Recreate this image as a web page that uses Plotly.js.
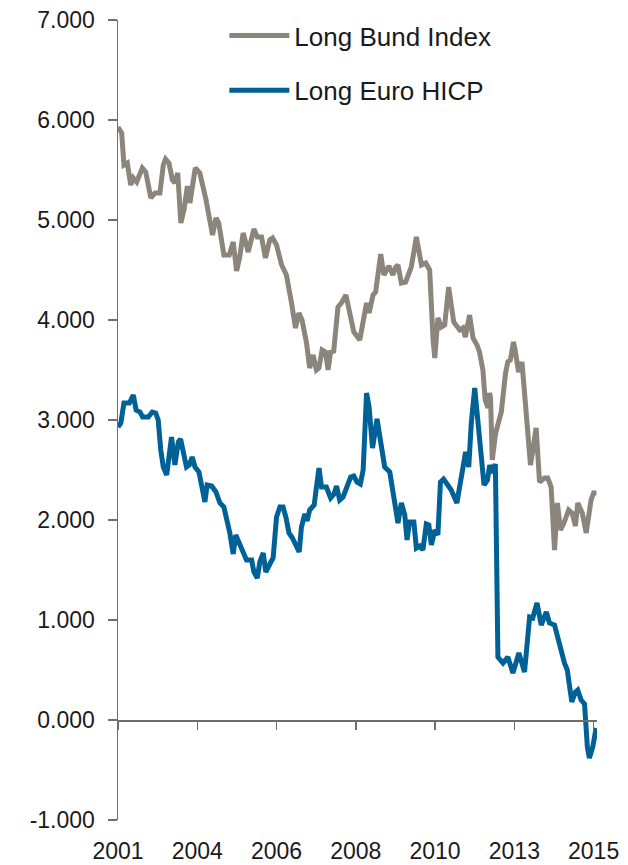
<!DOCTYPE html>
<html>
<head>
<meta charset="utf-8">
<script src="https://cdn.plot.ly/plotly-3.0.1.min.js"></script>
<style>html,body{margin:0;padding:0;background:#fff;}#chart{width:628px;height:865px;}</style>
</head>
<body>
<div id="chart"></div>
<script>
// x = months since start of 2001
const bundMonths = [0,1.3,2.1,3.3,4.5,5.4,6.6,8.6,9.8,11.6,13.1,14.8,16.0,16.8,18.0,19.2,20.1,21.1,22.2,23.3,24.5,25.4,27.3,28.9,31.1,32.5,33.4,34.6,35.6,37.4,39.3,40.7,41.9,43.0,44.2,46.0,48.0,49.2,50.7,52.1,53.6,54.6,56.0,57.8,59.5,61.3,62.7,63.9,65.0,66.6,67.7,68.9,70.1,71.0,72.1,73.3,74.2,75.1,76.2,77.7,78.9,80.5,81.6,83.3,85.4,86.8,87.8,88.7,90.1,91.0,92.8,93.9,95.7,97.1,98.1,98.9,100.1,101.6,103.6,105.4,107.2,108.7,110.1,111.3,111.9,113.0,114.2,115.4,116.8,118.6,120.7,121.8,122.7,124.2,125.4,126.8,127.7,128.9,129.7,130.7,131.3,131.6,132.2,133.4,135.4,136.9,137.7,138.6,139.7,140.4,141.5,142.7,143.9,145.7,147.7,148.9,150.7,151.8,153.0,154.2,155.2,156.3,157.5,159.2,160.4,161.6,162.4,164.0,165.4,167.1,168.0,169.0];
const bundValues = [5.93,5.87,5.55,5.57,5.35,5.42,5.38,5.52,5.48,5.22,5.27,5.27,5.55,5.61,5.57,5.40,5.37,5.47,4.97,5.10,5.34,5.17,5.52,5.47,5.20,5.02,4.85,5.02,4.97,4.65,4.65,4.78,4.49,4.63,4.87,4.68,4.91,4.83,4.83,4.62,4.80,4.82,4.75,4.55,4.45,4.17,3.92,4.07,4.00,3.77,3.52,3.65,3.50,3.52,3.70,3.68,3.50,3.68,3.69,4.13,4.17,4.25,4.08,3.88,3.80,4.05,4.17,4.07,4.25,4.28,4.66,4.45,4.54,4.45,4.53,4.55,4.37,4.38,4.53,4.83,4.55,4.57,4.50,3.80,3.62,4.02,3.93,3.95,4.33,3.98,3.90,3.92,3.83,4.05,3.82,3.75,3.68,3.50,3.20,3.12,3.27,3.22,2.60,2.87,3.08,3.47,3.58,3.60,3.78,3.68,3.48,3.58,3.22,2.55,2.92,2.38,2.42,2.42,2.33,1.70,2.17,1.90,1.97,2.10,2.07,1.94,2.17,2.07,1.87,2.20,2.27,2.27];

const hicpMonths = [0,1.0,2.1,4.0,5.4,6.4,7.8,8.7,10.7,12.1,13.3,14.2,15.1,16.0,17.2,18.3,18.9,20.1,21.3,22.1,23.0,24.2,25.2,26.2,27.2,28.6,30.7,31.5,33.1,34.6,36.0,37.4,39.5,40.7,41.6,43.0,45.4,47.2,48.0,49.2,50.1,51.3,52.2,54.0,54.8,56.0,57.2,58.3,59.3,60.4,61.6,64.0,64.8,66.0,66.8,67.7,69.3,70.1,71.0,71.9,73.6,75.1,76.3,77.2,78.3,79.5,80.9,82.2,83.3,84.4,85.6,86.6,87.8,88.7,89.9,91.5,92.4,94.2,96.0,97.4,98.9,100.1,101.3,102.1,103.0,104.5,105.4,106.6,107.7,108.9,109.8,110.7,111.9,113.0,113.9,115.0,116.5,117.7,119.7,121.8,122.8,123.9,124.8,126.0,127.4,128.3,129.3,130.5,131.3,132.2,133.3,134.2,136.0,137.7,139.5,141.6,143.6,145.4,146.5,148.0,149.5,151.3,152.4,154.2,156.6,157.7,158.7,160.3,161.6,162.4,163.6,164.8,165.8,166.5,167.7,168.9];
const hicpValues = [2.93,2.97,3.17,3.17,3.25,3.10,3.08,3.03,3.03,3.08,3.07,3.00,2.70,2.53,2.45,2.70,2.83,2.55,2.78,2.81,2.67,2.53,2.55,2.63,2.53,2.48,2.18,2.35,2.34,2.28,2.17,2.13,1.87,1.66,1.85,1.75,1.60,1.60,1.48,1.42,1.58,1.67,1.48,1.58,1.62,2.03,2.13,2.13,2.03,1.87,1.82,1.68,1.93,2.06,1.99,2.10,2.15,2.33,2.52,2.33,2.33,2.22,2.26,2.34,2.20,2.23,2.33,2.43,2.44,2.38,2.36,2.50,3.27,3.13,2.72,3.01,2.85,2.53,2.48,2.22,1.97,2.17,2.05,1.80,1.98,1.98,1.72,1.74,1.70,1.96,1.95,1.75,1.90,1.85,2.38,2.41,2.35,2.30,2.17,2.55,2.68,2.53,2.97,3.32,2.92,2.73,2.35,2.40,2.55,2.47,2.56,0.63,0.57,0.63,0.47,0.67,0.48,1.03,1.02,1.17,0.95,1.08,0.97,0.95,0.67,0.57,0.50,0.18,0.28,0.30,0.20,0.16,-0.27,-0.38,-0.27,-0.08];

const xTickMonths = [0,28,56,84,112,140,168];
const xTickLabels = ['2001','2004','2006','2008','2010','2013','2015'];
const yTickVals = [-1,0,1,2,3,4,5,6,7];
const yTickLabels = ['-1.000','0.000','1.000','2.000','3.000','4.000','5.000','6.000','7.000'];

const tickFont = {family: 'Liberation Sans, Arial, sans-serif', size: 23, color: '#1a1a1a'};
const legendFont = {family: 'Liberation Sans, Arial, sans-serif', size: 26, color: '#1a1a1a'};
const axisColor = '#6e6e6e';

const traces = [
  {x: bundMonths, y: bundValues, type: 'scatter', mode: 'lines', name: 'Long Bund Index',
   line: {color: '#8c857b', width: 5}, legendgroup: 'a'},
  {x: hicpMonths, y: hicpValues, type: 'scatter', mode: 'lines', name: 'Long Euro HICP',
   line: {color: '#006196', width: 5}, legendgroup: 'b'},
  {x: [], y: [], xaxis: 'x2', yaxis: 'y', type: 'scatter', mode: 'lines', showlegend: false, hoverinfo: 'skip'}
];

const layout = {
  width: 628, height: 865,
  margin: {l: 118, r: 31, t: 20, b: 45},
  paper_bgcolor: '#fff', plot_bgcolor: '#fff',
  font: tickFont,
  showlegend: true,
  legend: {x: 0.222, y: 1.01, xanchor: 'left', yanchor: 'top', font: legendFont,
           bgcolor: 'rgba(0,0,0,0)', tracegroupgap: 18, itemwidth: 60},
  xaxis: {range: [0, 169.2], anchor: 'free', position: 0.125,
          showline: true, linecolor: axisColor, linewidth: 1.5,
          ticks: 'outside', ticklen: 8, tickcolor: axisColor, tickwidth: 1.5,
          tickmode: 'array', tickvals: xTickMonths, showticklabels: false,
          showgrid: false, zeroline: false, fixedrange: true},
  xaxis2: {range: [0, 169.2], overlaying: 'x', anchor: 'y', side: 'bottom',
           showline: false, ticks: 'outside', ticklen: 10, tickcolor: 'rgba(0,0,0,0)',
           tickmode: 'array', tickvals: xTickMonths, ticktext: xTickLabels,
           tickfont: tickFont, showgrid: false, zeroline: false},
  yaxis: {range: [-1, 7], showline: true, linecolor: axisColor, linewidth: 1.5,
          ticks: 'outside', ticklen: 9, tickcolor: axisColor, tickwidth: 1.5,
          ticklabelstandoff: 8,
          tickmode: 'array', tickvals: yTickVals, ticktext: yTickLabels,
          tickfont: tickFont, showgrid: false, zeroline: false}
};

Plotly.newPlot('chart', traces, layout, {displayModeBar: false, staticPlot: true});
</script>
</body>
</html>
